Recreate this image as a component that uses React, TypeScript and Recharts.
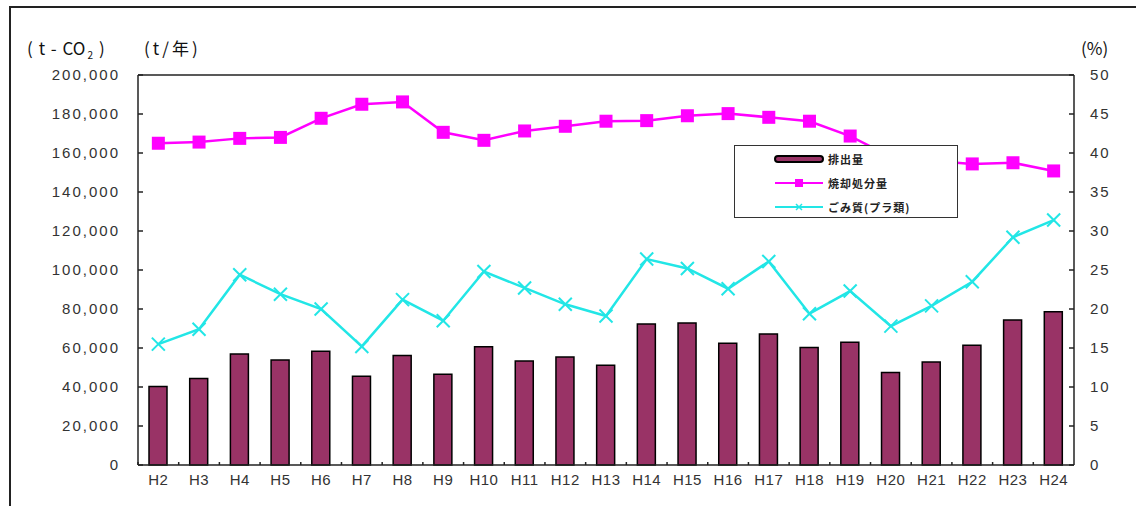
import { ComposedChart, Bar, Line, XAxis, YAxis, Legend, ReferenceLine } from 'recharts';

const years = ['H2', 'H3', 'H4', 'H5', 'H6', 'H7', 'H8', 'H9', 'H10', 'H11', 'H12', 'H13', 'H14', 'H15', 'H16', 'H17', 'H18', 'H19', 'H20', 'H21', 'H22', 'H23', 'H24'];
// 排出量 (t-CO2)
const emissions = [40200, 44400, 56900, 53800, 58300, 45500, 56100, 46500, 60700, 53300, 55400, 51200, 72300, 72800, 62400, 67200, 60300, 62900, 47500, 52800, 61400, 74400, 78600];
// 焼却処分量 (t/年)
const incineration = [165000, 165600, 167500, 168000, 177800, 185000, 186200, 170600, 166500, 171300, 173700, 176300, 176600, 179100, 180200, 178300, 176300, 168700, 158000, 156000, 154400, 155000, 150800];
// ごみ質(プラ類) (%)
const plasticShare = [15.5, 17.4, 24.4, 21.9, 20.0, 15.2, 21.2, 18.5, 24.8, 22.7, 20.6, 19.1, 26.4, 25.2, 22.6, 26.1, 19.4, 22.3, 17.8, 20.4, 23.5, 29.2, 31.4];

const leftTicks = [0, 20000, 40000, 60000, 80000, 100000, 120000, 140000, 160000, 180000, 200000];
const rightTicks = [0, 5, 10, 15, 20, 25, 30, 35, 40, 45, 50];
const legendOrder = ['emissions', 'incineration', 'plastic'];

const data = years.map((y, i) => ({
  year: y,
  emissions: emissions[i],
  incineration: incineration[i],
  plastic: plasticShare[i],
}));

const FONT = '"Liberation Sans", Arial, sans-serif';
const JP = '"Noto Sans CJK JP", "Liberation Sans", sans-serif';
const BAR = '#993366';
const MAGENTA = '#ff00ff';
const CYAN = '#22e6e6';
const AXIS = '#222';
const BAND = 936 / years.length;

const tickStyle = { fontSize: 15, fill: '#333', fontFamily: FONT, letterSpacing: 2 };

const fmt = (v: number) => v.toLocaleString('en-US');

const XTick = (props: any) => {
  const { x, y, payload } = props;
  return (
    <g>
      <line x1={x - BAND / 2} x2={x - BAND / 2} y1={y} y2={y - 3} stroke={AXIS} strokeWidth={1.5} />
      <text x={x} y={y + 20} textAnchor="middle" fontSize={15} fill="#333" fontFamily={FONT} letterSpacing={0.5}>
        {payload.value}
      </text>
    </g>
  );
};

const SquareDot = (props: any) => {
  const { cx, cy, index } = props;
  return <rect key={`sq-${index}`} x={cx - 6.5} y={cy - 6.5} width={13} height={13} fill={MAGENTA} />;
};

const CrossDot = (props: any) => {
  const { cx, cy, index } = props;
  const r = 6.5;
  return (
    <g key={`x-${index}`}>
      <line x1={cx - r} y1={cy - r} x2={cx + r} y2={cy + r} stroke={CYAN} strokeWidth={2} />
      <line x1={cx - r} y1={cy + r} x2={cx + r} y2={cy - r} stroke={CYAN} strokeWidth={2} />
    </g>
  );
};

const LegendIcon = ({ dataKey, color }: { dataKey: string; color: string }) => {
  if (dataKey === 'emissions') {
    return (
      <svg width={52} height={12}>
        <rect x={2} y={3} width={48} height={6} rx={3} fill={color} stroke="#000" strokeWidth={2} />
      </svg>
    );
  }
  return (
    <svg width={52} height={12}>
      <line x1={2} x2={50} y1={6} y2={6} stroke={color} strokeWidth={2} />
      {dataKey === 'incineration' ? (
        <rect x={22} y={2} width={8} height={8} fill={color} />
      ) : (
        <g stroke={color} strokeWidth={1.5}>
          <line x1={23} y1={3} x2={29} y2={9} />
          <line x1={23} y1={9} x2={29} y2={3} />
        </g>
      )}
    </svg>
  );
};

const LegendBox = (props: any) => {
  const items = [...(props.payload || [])].sort(
    (a: any, b: any) => legendOrder.indexOf(a.dataKey) - legendOrder.indexOf(b.dataKey)
  );
  return (
    <div
      style={{
        width: 224,
        height: 73,
        boxSizing: 'border-box',
        border: '1.5px solid #333',
        background: '#fff',
        paddingTop: 1,
        paddingLeft: 38,
      }}
    >
      {items.map((entry: any) => (
        <div key={entry.dataKey} style={{ display: 'flex', alignItems: 'center', height: 24 }}>
          <LegendIcon dataKey={entry.dataKey} color={entry.color} />
          <span style={{ fontFamily: JP, fontSize: 11, fontWeight: 700, color: '#222', marginLeft: 3, letterSpacing: 1 }}>
            {entry.value}
          </span>
        </div>
      ))}
    </div>
  );
};

const label = (left: number, text: React.ReactNode) => (
  <div
    style={{
      position: 'absolute',
      left,
      top: 36,
      fontFamily: JP,
      fontSize: 17,
      color: '#111',
      lineHeight: '24px',
      whiteSpace: 'nowrap',
    }}
  >
    {text}
  </div>
);

export default function App() {
  return (
    <div style={{ position: 'absolute', left: 0, top: 0, width: 1136, height: 506, background: '#fff', overflow: 'hidden' }}>
      <div
        style={{
          position: 'absolute',
          left: 9,
          top: 6,
          width: 1200,
          height: 600,
          borderLeft: '2px solid #222',
          borderTop: '2px solid #222',
        }}
      />
      {label(
        27,
        <span>
          <span style={{ letterSpacing: 6 }}>(t-</span>
          <span style={{ letterSpacing: 0 }}>CO</span>
          <sub style={{ fontSize: 10, marginLeft: 2, marginRight: 6 }}>2</sub>
          <span>)</span>
        </span>
      )}
      {label(144, <span style={{ letterSpacing: 3 }}>(t/年)</span>)}
      {label(1081, <span>(%)</span>)}
      <div style={{ position: 'absolute', left: 0, top: 0 }}>
        <ComposedChart
          width={1136}
          height={506}
          data={data}
          margin={{ top: 75, right: 22, left: 78, bottom: 11 }}
          barCategoryGap={0}
        >
          <XAxis
            dataKey="year"
            height={30}
            tickSize={0}
            tickMargin={0}
            tickLine={false}
            axisLine={{ stroke: AXIS, strokeWidth: 1.5 }}
            tick={<XTick />}
            interval={0}
          />
          <YAxis
            yAxisId="left"
            orientation="left"
            width={60}
            domain={[0, 200000]}
            ticks={leftTicks}
            tickFormatter={fmt}
            tickSize={-5}
            tickMargin={23}
            tickLine={{ stroke: AXIS, strokeWidth: 1.5 }}
            axisLine={{ stroke: AXIS, strokeWidth: 1.5 }}
            tick={tickStyle}
            interval={0}
          />
          <YAxis
            yAxisId="right"
            orientation="right"
            width={40}
            domain={[0, 50]}
            ticks={rightTicks}
            tickSize={-5}
            tickMargin={21}
            tickLine={{ stroke: AXIS, strokeWidth: 1.5 }}
            axisLine={{ stroke: AXIS, strokeWidth: 1.5 }}
            tick={{ ...tickStyle, textAnchor: 'start' }}
            interval={0}
          />
          <ReferenceLine yAxisId="left" y={200000} stroke={AXIS} strokeWidth={1.5} />
          <Bar
            yAxisId="left"
            dataKey="emissions"
            name="排出量"
            fill={BAR}
            stroke="#000"
            strokeWidth={1.5}
            barSize={18}
            isAnimationActive={false}
          />
          <Line
            yAxisId="left"
            dataKey="incineration"
            name="焼却処分量"
            stroke={MAGENTA}
            strokeWidth={2.5}
            dot={SquareDot}
            activeDot={false}
            isAnimationActive={false}
          />
          <Line
            yAxisId="right"
            dataKey="plastic"
            name="ごみ質(プラ類)"
            stroke={CYAN}
            strokeWidth={2.5}
            dot={CrossDot}
            activeDot={false}
            isAnimationActive={false}
          />
          <Legend
            layout="vertical"
            align="center"
            verticalAlign="middle"
            content={<LegendBox />}
            wrapperStyle={{ left: 734, top: 145, width: 224, height: 73 }}
          />
        </ComposedChart>
      </div>
    </div>
  );
}
